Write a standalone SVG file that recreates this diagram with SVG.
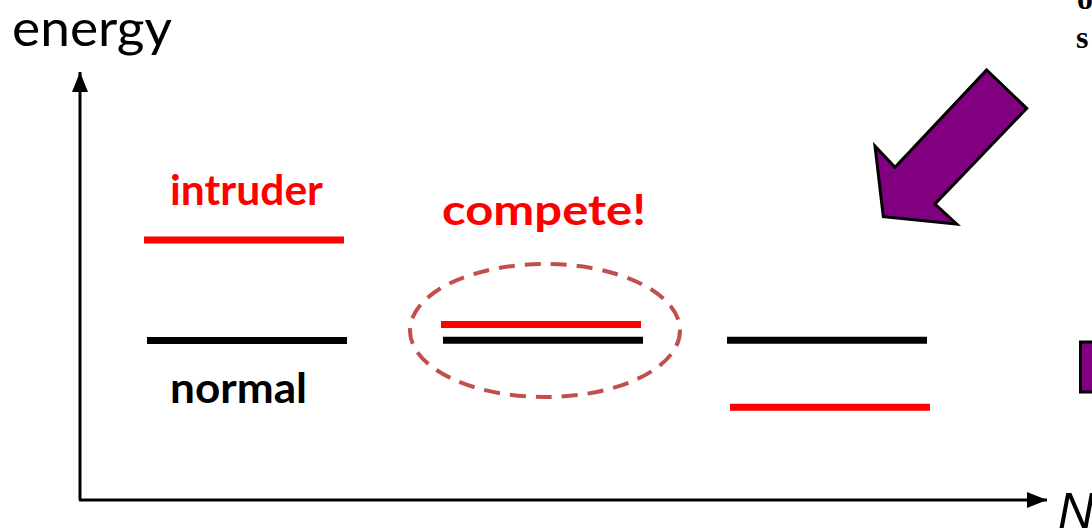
<svg xmlns="http://www.w3.org/2000/svg" width="1092" height="528" viewBox="0 0 1092 528">
<defs>
<marker id="ah" viewBox="0 0 20 16" refX="20" refY="8" markerWidth="20" markerHeight="16" markerUnits="userSpaceOnUse" orient="auto">
<path d="M0,0 L20,8 L0,16 Z" fill="#000"/>
</marker>
</defs>
<style>
.lbl{font-family:Lato,"Liberation Sans",sans-serif;}
.b{font-weight:bold;font-size:42px;}
.red{fill:#FF0000;}
.lvl{stroke-width:7;fill:none;}
.rl{stroke:#FF0000;}
.bl{stroke:#000;}
.axis{stroke:#000;stroke-width:3;fill:none;}
.edge{font-family:"Liberation Serif",serif;font-weight:bold;font-size:32px;}
</style>
<rect width="1092" height="528" fill="#fff"/>
<g id="connectors">
<line class="axis" x1="80" y1="500" x2="80" y2="72" marker-end="url(#ah)"/>
<line class="axis" x1="79" y1="500" x2="1047" y2="500" marker-end="url(#ah)"/>
</g>
<g id="axis-labels">
<text class="lbl" x="12" y="46" font-size="50" textLength="160" lengthAdjust="spacingAndGlyphs">energy</text>
<text x="1058" y="528" font-family="'Liberation Sans',sans-serif" font-style="italic" font-size="50">N</text>
</g>
<g id="intruder">
<line class="lvl rl" x1="144" y1="240" x2="344" y2="240"/>
<text class="lbl b red" x="170" y="205" textLength="153" lengthAdjust="spacingAndGlyphs">intruder</text>
</g>
<g id="normal">
<line class="lvl bl" x1="147" y1="340.5" x2="347" y2="340.5"/>
<text class="lbl b" x="170" y="403" textLength="137" lengthAdjust="spacingAndGlyphs">normal</text>
</g>
<g id="compete">
<text class="lbl b red" x="442" y="225" textLength="204" lengthAdjust="spacingAndGlyphs">compete!</text>
<ellipse cx="545" cy="330.5" rx="135" ry="66.5" fill="none" stroke="#C0504D" stroke-width="4" stroke-dasharray="16,10"/>
<line class="lvl rl" x1="441" y1="324.5" x2="641" y2="324.5"/>
<line class="lvl bl" x1="443" y1="340.3" x2="643" y2="340.3"/>
</g>
<g id="inverted">
<line class="lvl bl" x1="727" y1="340.3" x2="927" y2="340.3"/>
<line class="lvl rl" x1="730" y1="407.3" x2="930" y2="407.3"/>
</g>
<g id="big-arrow">
<polygon points="986.7,70 1026.7,108.3 935,204 956.7,224 883.3,216.7 875,146 895,167.3" fill="#800080" stroke="#000" stroke-width="3" stroke-linejoin="miter"/>
</g>
<g id="edge-box">
<rect x="1080.5" y="342" width="20" height="50" fill="#800080" stroke="#000" stroke-width="3"/>
</g>
<g id="edge-text">
<text class="edge" x="1077" y="9">o</text>
<text class="edge" x="1076" y="48">s</text>
</g>
</svg>
